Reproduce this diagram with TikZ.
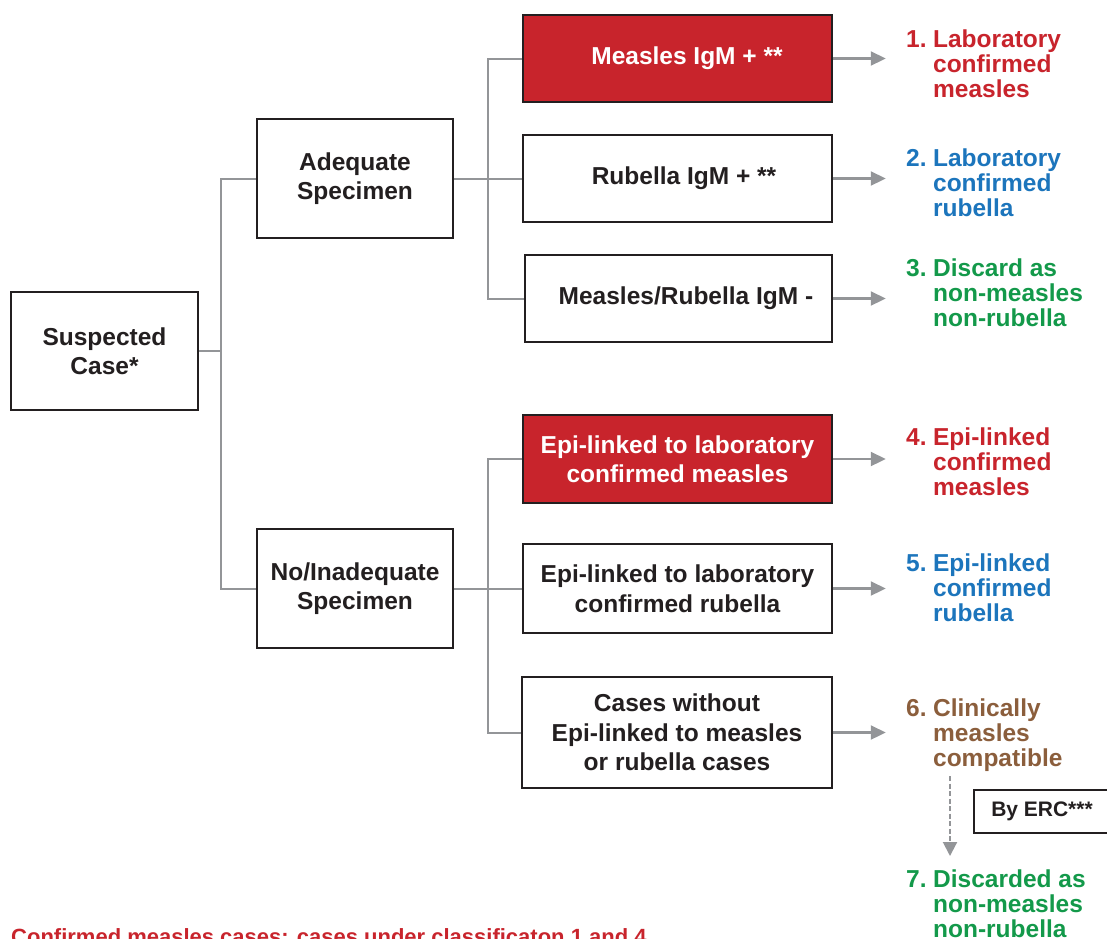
\documentclass[tikz,border=0pt]{standalone}
\usepackage{fontspec}
\setmainfont{Liberation Sans}
\usetikzlibrary{arrows.meta}
\definecolor{cred}{HTML}{C8242C}
\definecolor{cblue}{HTML}{1C75BC}
\definecolor{cgreen}{HTML}{13994A}
\definecolor{cbrown}{HTML}{8B5E3C}
\definecolor{cgray}{HTML}{939598}
\definecolor{cdark}{HTML}{231F20}
\tikzset{
  boxnode/.style={draw=cdark, line width=1.5pt, fill=white, text=cdark, align=center, inner sep=0pt,
    font=\fontsize{24.5}{29.5}\selectfont\bfseries},
  redbox/.style={boxnode, fill=cred, text=white},
  conn/.style={draw=cgray, line width=2pt},
  arr/.style={draw=cgray, line width=2.2pt, -{Triangle[length=15pt,width=14pt]}},
  dasharr/.style={draw=cgray, line width=2pt, dash pattern=on 5pt off 2.5pt, -{Triangle[length=14pt,width=14pt]}},
  outlabel/.style={anchor=west, inner sep=0pt, font=\fontsize{24.5}{24.6}\selectfont\bfseries},
}
\newcommand{\outtxt}[4]{\begin{tabular}{@{}l@{\hspace{6.5pt}}l@{}}#1 & #2\\ & #3\\ & #4\end{tabular}}
\begin{document}
\begin{tikzpicture}[x=1pt,y=-1pt]
\useasboundingbox (0,0) rectangle (1107,938);
% boxes
\node[boxnode, minimum width=187pt, minimum height=118pt] (sc) at (104.5,351) {Suspected\\Case*};
\node[boxnode, minimum width=196pt, minimum height=119pt] (as) at (355,178.5) {Adequate\\Specimen};
\node[boxnode, minimum width=196pt, minimum height=119pt] (ni) at (355,588.5) {No/Inadequate\\Specimen};
\node[redbox, minimum width=309pt, minimum height=87pt] (m1) at (677.5,58.5) {\hspace*{19pt}Measles IgM + **};
\node[boxnode, minimum width=309pt, minimum height=87pt] (r1) at (677.5,178.5) {\hspace*{13pt}Rubella IgM + **};
\node[boxnode, minimum width=307pt, minimum height=87pt] (n1) at (678.5,298.5) {\hspace*{15pt}Measles/Rubella IgM -};
\node[redbox, minimum width=309pt, minimum height=88pt] (e1) at (677.5,459) {Epi-linked to laboratory\\confirmed measles};
\node[boxnode, minimum width=309pt, minimum height=89pt] (e2) at (677.5,588.5) {Epi-linked to laboratory\\confirmed rubella};
\node[boxnode, minimum width=310pt, minimum height=111pt] (e3) at (677,732.5) {Cases without\\Epi-linked to measles\\or rubella cases};
\node[boxnode, minimum width=140pt, minimum height=43pt, font=\fontsize{21}{25}\selectfont\bfseries] (erc) at (1044,811.5) {\hspace*{-4pt}By ERC***};
% outcome labels
\node[outlabel, text=cred]   (o1) at (906,67) {\outtxt{1.}{Laboratory}{confirmed}{measles}};
\node[outlabel, text=cblue]  (o2) at (906,186) {\outtxt{2.}{Laboratory}{confirmed}{rubella}};
\node[outlabel, text=cgreen] (o3) at (906,296) {\outtxt{3.}{Discard as}{non-measles}{non-rubella}};
\node[outlabel, text=cred]   (o4) at (906,465) {\outtxt{4.}{Epi-linked}{confirmed}{measles}};
\node[outlabel, text=cblue]  (o5) at (906,591) {\outtxt{5.}{Epi-linked}{confirmed}{rubella}};
\node[outlabel, text=cbrown] (o6) at (906,736) {\outtxt{6.}{Clinically}{measles}{compatible}};
\node[outlabel, text=cgreen] (o7) at (906,907) {\outtxt{7.}{Discarded as}{non-measles}{non-rubella}};
% footnote
\node[anchor=base west, inner sep=0pt, text=cred, font=\fontsize{22}{26}\selectfont\bfseries] (fn) at (11,944) {Confirmed measles cases: cases under classificaton 1 and 4};
% connectors
\draw[conn] (sc.east) -- ++(22,0) coordinate (j0) |- (as.west);
\draw[conn] (j0) |- (ni.west);
\draw[conn] (as.east) -- ++(34,0) coordinate (j1) |- (m1.west);
\draw[conn] (j1) -- (r1.west);
\draw[conn] (j1) |- (n1.west);
\draw[conn] (ni.east) -- ++(34,0) coordinate (j2) |- (e1.west);
\draw[conn] (j2) -- (e2.west);
\draw[conn] (j2) |- (e3.west);
% arrows
\draw[arr] (m1.east) -- ++(53,0) coordinate (a1);
\draw[arr] (r1.east) -- ++(53,0) coordinate (a2);
\draw[arr] (n1.east) -- ++(53,0) coordinate (a3);
\draw[arr] (e1.east) -- ++(53,0) coordinate (a4);
\draw[arr] (e2.east) -- ++(53,0) coordinate (a5);
\draw[arr] (e3.east) -- ++(53,0) coordinate (a6);
\coordinate (d1) at (950,776);
\coordinate (d2) at (950,856);
\draw[dasharr] (d1) -- (d2);
\end{tikzpicture}
\end{document}
